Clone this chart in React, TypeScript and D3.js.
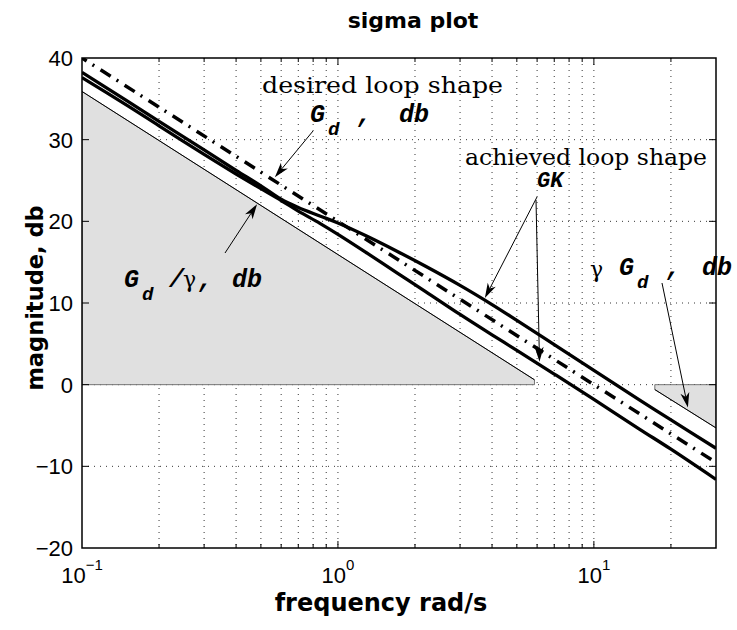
import React from 'react';
import * as d3 from 'd3';

// ---- data ----
const gdFreq = [0.1, 30];
const gdMag = [40, -9.54];

const lowBoundFreq = [0.1, 5.86];
const lowBoundMag = [35.9, 0.6];

const highBoundFreq = [17.3, 30];
const highBoundMag = [-0.6, -5.3];

const gkFreq = [0.1, 0.15, 0.2, 0.3, 0.4, 0.5, 0.6, 0.7, 0.85, 1.0, 1.3, 1.7, 2.2, 3.0, 4.0, 5.0, 7.0, 10, 15, 20, 30];
const sigmaMax = [38.25, 34.75, 32.25, 28.75, 26.25, 24.35, 22.7, 21.7, 20.66, 19.8, 18.17, 16.34, 14.5, 12.16, 9.81, 7.87, 4.9, 1.75, -1.82, -4.32, -7.79];
const sigmaMin = [37.6, 34.2, 31.7, 28.2, 25.8, 24.0, 22.55, 21.25, 19.75, 18.4, 16.1, 13.7, 11.4, 8.6, 6.1, 4.2, 1.3, -1.8, -5.4, -7.9, -11.6];

const xMajor = [0.1, 1, 10];
const xMajorExp = ['\u22121', '0', '1'];
const yTicks = [-20, -10, 0, 10, 20, 30, 40];

const W = 737, H = 630;
const L = 82, R = 716, T = 58, B = 548;

const zip = (a: number[], b: number[]) => a.map((v, i) => [v, b[i]] as [number, number]);

function arrowParts(x1: number, y1: number, x2: number, y2: number, len = 15, hw = 4.5) {
  const dx = x2 - x1, dy = y2 - y1;
  const l = Math.hypot(dx, dy);
  const ux = dx / l, uy = dy / l;
  const px = -uy, py = ux;
  const bx = x2 - ux * len, by = y2 - uy * len;
  const nx = x2 - ux * len * 0.72, ny = y2 - uy * len * 0.72;
  const pts = [[x2, y2], [bx + px * hw, by + py * hw], [nx, ny], [bx - px * hw, by - py * hw]];
  return { line: [x1, y1, nx, ny], head: pts.map(p => p.join(',')).join(' ') };
}

function Arrow({ x1, y1, x2, y2 }: { x1: number; y1: number; x2: number; y2: number }) {
  const a = arrowParts(x1, y1, x2, y2);
  return (
    <g>
      <line x1={a.line[0]} y1={a.line[1]} x2={a.line[2]} y2={a.line[3]} stroke="#000" strokeWidth={1} />
      <polygon points={a.head} fill="#000" />
    </g>
  );
}

export default function App() {
  const x = d3.scaleLog().domain([0.1, 30]).range([L, R]);
  const y = d3.scaleLinear().domain([-20, 40]).range([B, T]);

  const straight = d3.line<[number, number]>().x(d => x(d[0])).y(d => y(d[1]));
  const smooth = d3.line<[number, number]>().x(d => x(d[0])).y(d => y(d[1])).curve(d3.curveCatmullRom.alpha(0.5));

  const gd = zip(gdFreq, gdMag);
  const low = zip(lowBoundFreq, lowBoundMag);
  const high = zip(highBoundFreq, highBoundMag);
  const s1 = zip(gkFreq, sigmaMax);
  const s2 = zip(gkFreq, sigmaMin);

  const lowFill = [[low[0][0], 0] as [number, number], ...low, [low[low.length - 1][0], 0] as [number, number]];
  const highFill = [[high[0][0], 0] as [number, number], ...high, [high[high.length - 1][0], 0] as [number, number]];

  const allX = x.ticks();
  const gridX = allX.filter(v => v > 0.1 + 1e-9 && v < 30 - 1e-9);
  const isMajor = (v: number) => xMajor.some(m => Math.abs(m - v) < 1e-9);
  const gridY = yTicks.filter(v => v > -20 && v < 40);

  const tickFont = '"Liberation Sans", Arial, sans-serif';
  const labelFont = '"DejaVu Sans", sans-serif';
  const mono = '"Liberation Mono", "Courier New", monospace';
  const serif = '"DejaVu Serif", serif';

  return (
    <svg width={W} height={H} style={{ position: 'absolute', left: 0, top: 0, background: '#fff' }}>
      <defs>
        <clipPath id="plot">
          <rect x={L} y={T} width={R - L} height={B - T} />
        </clipPath>
      </defs>
      <rect x={0} y={0} width={W} height={H} fill="#fff" />

      {/* grid */}
      <g stroke="#000" strokeWidth={0.8} strokeDasharray="1 5">
        {gridX.map(v => (
          <line key={'gx' + v} x1={x(v)} x2={x(v)} y1={T} y2={B} />
        ))}
        {gridY.map(v => (
          <line key={'gy' + v} x1={L} x2={R} y1={y(v)} y2={y(v)} />
        ))}
      </g>

      {/* shaded bounds */}
      <g clipPath="url(#plot)">
        <path d={straight(lowFill) + 'Z'} fill="#e0e0e0" stroke="#555" strokeWidth={0.8} />
        <path d={straight(highFill) + 'Z'} fill="#e0e0e0" stroke="#555" strokeWidth={0.8} />
        <path d={straight(low) || ''} fill="none" stroke="#000" strokeWidth={1} />
        <path d={straight(high) || ''} fill="none" stroke="#000" strokeWidth={1} />

        <path d={straight(gd) || ''} fill="none" stroke="#000" strokeWidth={3.5} strokeDasharray="12 7 2 7.5" strokeDashoffset={-22} />
        <path d={smooth(s1) || ''} fill="none" stroke="#000" strokeWidth={3.3} />
        <path d={smooth(s2) || ''} fill="none" stroke="#000" strokeWidth={3.3} />
      </g>

      {/* ticks */}
      <g stroke="#000" strokeWidth={1}>
        {gridX.map(v => {
          const len = isMajor(v) ? 7 : 4;
          return (
            <g key={'tx' + v}>
              <line x1={x(v)} x2={x(v)} y1={B} y2={B - len} />
              <line x1={x(v)} x2={x(v)} y1={T} y2={T + len} />
            </g>
          );
        })}
        {gridY.map(v => (
          <g key={'ty' + v}>
            <line x1={L} x2={L + 7} y1={y(v)} y2={y(v)} />
            <line x1={R} x2={R - 7} y1={y(v)} y2={y(v)} />
          </g>
        ))}
      </g>

      {/* frame */}
      <rect x={L} y={T} width={R - L} height={B - T} fill="none" stroke="#000" strokeWidth={1.5} />

      {/* y tick labels */}
      <g fontFamily={tickFont} fontSize={22} textAnchor="end" fill="#000">
        {yTicks.map(v => (
          <text key={'yl' + v} x={L - 9} y={y(v) + 8}>{v < 0 ? '\u2212' + Math.abs(v) : String(v)}</text>
        ))}
      </g>

      {/* x tick labels */}
      <g fontFamily={tickFont} fill="#000">
        {xMajor.map((v, i) => (
          <text key={'xl' + v} x={x(v)} y={583} fontSize={22} textAnchor="middle">
            <tspan>10</tspan>
            <tspan fontSize={15} dy={-13}>{xMajorExp[i]}</tspan>
          </text>
        ))}
      </g>

      {/* title & axis labels */}
      <text x={413} y={28} textAnchor="middle" fontFamily={labelFont} fontWeight="bold" fontSize={22}>sigma plot</text>
      <text x={381} y={611} textAnchor="middle" fontFamily={labelFont} fontWeight="bold" fontSize={24}>frequency rad/s</text>
      <text transform="translate(43,298) rotate(-90)" textAnchor="middle" fontFamily={labelFont} fontWeight="bold" fontSize={22.5}>magnitude, db</text>

      {/* annotations */}
      <text x={262} y={93} fontFamily={serif} fontSize={23} textLength={241} lengthAdjust="spacingAndGlyphs">desired loop shape</text>
      <g fontFamily={mono} fontWeight="bold" fontStyle="italic" fill="#000">
        <text x={310} y={122} fontSize={25}>G</text>
        <text x={328} y={135} fontSize={19}>d</text>
        <text x={357} y={122} fontSize={25}>,</text>
        <text x={399} y={122} fontSize={25}>db</text>
      </g>
      <Arrow x1={313} y1={131} x2={x(0.567)} y2={y(25.4)} />

      <text x={465} y={165} fontFamily={serif} fontSize={23} textLength={242} lengthAdjust="spacingAndGlyphs">achieved loop shape</text>
      <text x={537} y={187} fontFamily={mono} fontWeight="bold" fontStyle="italic" fontSize={22}>GK</text>
      <Arrow x1={537} y1={197} x2={x(3.75)} y2={y(10.6)} />
      <Arrow x1={536} y1={200} x2={x(6.13)} y2={y(2.8)} />

      <g fontFamily={mono} fontWeight="bold" fontStyle="italic" fill="#000">
        <text x={124} y={287} fontSize={25}>G</text>
        <text x={142} y={300} fontSize={19}>d</text>
        <text x={169} y={287} fontSize={25}>/</text>
        <text x={198} y={287} fontSize={25}>,</text>
        <text x={232} y={287} fontSize={25}>db</text>
      </g>
      <text x={183} y={287} fontFamily={serif} fontSize={22}>γ</text>
      <Arrow x1={225} y1={253} x2={x(0.483)} y2={y(22.1)} />

      <text x={590} y={277} fontFamily={serif} fontSize={22}>γ</text>
      <g fontFamily={mono} fontWeight="bold" fontStyle="italic" fill="#000">
        <text x={619} y={275} fontSize={25}>G</text>
        <text x={637} y={288} fontSize={19}>d</text>
        <text x={666} y={275} fontSize={25}>,</text>
        <text x={702} y={275} fontSize={25}>db</text>
      </g>
      <Arrow x1={662} y1={283} x2={x(23.3)} y2={y(-2.8)} />
    </svg>
  );
}
